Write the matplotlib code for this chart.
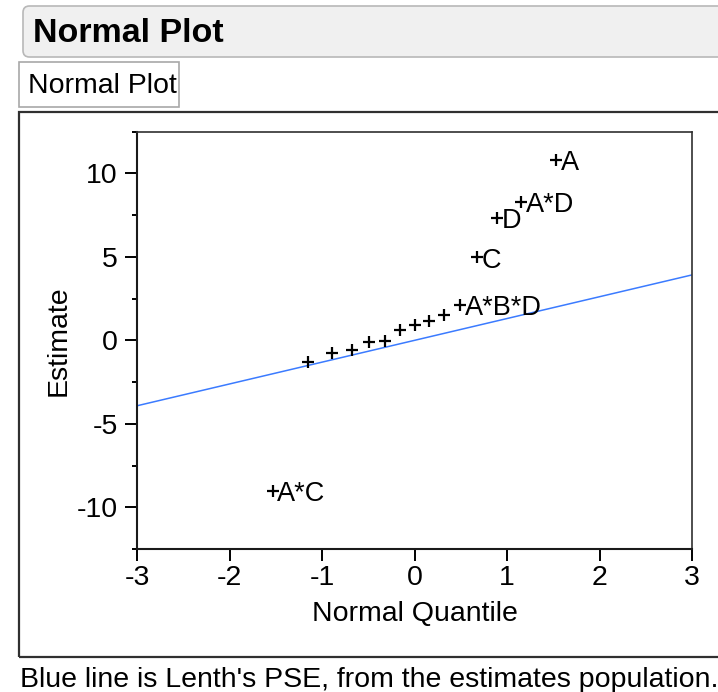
import matplotlib
matplotlib.use("Agg")
import matplotlib.pyplot as plt
from matplotlib.patches import FancyBboxPatch, Rectangle

plt.rcParams["font.family"] = ["Liberation Sans", "DejaVu Sans"]

# normal quantiles and estimates
quantiles = [-1.534, -1.150, -0.887, -0.674, -0.489, -0.319, -0.157, 0.0,
             0.157, 0.319, 0.489, 0.674, 0.887, 1.150, 1.534]
estimates = [-9.04, -1.28, -0.78, -0.56, -0.12, -0.02, 0.64, 0.92,
             1.18, 1.52, 2.10, 4.97, 7.33, 8.30, 10.80]
effect_labels = ["A*C", "", "", "", "", "", "", "",
                 "", "", "A*B*D", "C", "D", "A*D", "A"]

# Lenth's PSE line
pse_x = [-3, 3]
pse_y = [-3.92, 3.92]

x_ticks = [-3, -2, -1, 0, 1, 2, 3]
y_ticks = [-10, -5, 0, 5, 10]
y_minor = [-12.5, -7.5, -2.5, 2.5, 7.5, 12.5]

W, H = 718, 692


def fx(px):
    return px / W


def fy(py):
    return 1 - py / H


fig = plt.figure(figsize=(W / 100, H / 100), dpi=100)

# outline header
header = FancyBboxPatch((fx(23), fy(57)), fx(760) - fx(23), fy(6) - fy(57),
                        boxstyle="round,pad=0,rounding_size=0.009",
                        mutation_aspect=W / H, transform=fig.transFigure,
                        facecolor="#f0f0f0", edgecolor="#b8b8b8", lw=1.2)
fig.patches.append(header)
fig.text(fx(33), fy(42), "Normal Plot", fontsize=24.5, fontweight="bold",
         ha="left", va="baseline")

sub_box = Rectangle((fx(18.5), fy(107)), fx(179) - fx(18.5), fy(62) - fy(107),
                    transform=fig.transFigure, facecolor="white",
                    edgecolor="#a8a8a8", lw=1.2)
fig.patches.append(sub_box)
fig.text(fx(28), fy(93), "Normal Plot", fontsize=20.5, ha="left", va="baseline")

frame = Rectangle((fx(18.5), fy(656.5)), fx(760) - fx(18.5), fy(111.5) - fy(656.5),
                  transform=fig.transFigure, facecolor="none",
                  edgecolor="#303030", lw=1.6)
fig.patches.append(frame)

ax = fig.add_axes([fx(137), fy(549), fx(692) - fx(137), fy(131.7) - fy(549)])

ax.plot(pse_x, pse_y, color="#3b7bff", lw=1.1, zorder=2)
ax.plot(quantiles, estimates, linestyle="none", marker="+", markersize=9,
        markeredgewidth=1.6, color="black", zorder=3)
for q, e, name in zip(quantiles, estimates, effect_labels):
    if name:
        ax.annotate(name, (q, e), xytext=(3.4, -7.3), textcoords="offset points",
                    fontsize=19.5, ha="left", va="baseline")

ax.set_xlim(-3, 3)
ax.set_ylim(-12.5, 12.5)
ax.set_xticks(x_ticks)
ax.set_xticklabels([str(t) for t in x_ticks])
ax.set_yticks(y_ticks)
ax.set_yticklabels([str(t) for t in y_ticks])
ax.set_yticks(y_minor, minor=True)

ax.tick_params(axis="both", which="major", length=8.8, width=1.4,
               labelsize=20.5, direction="out")
ax.tick_params(axis="x", which="major", pad=3)
ax.tick_params(axis="y", which="major", pad=5)
ax.tick_params(axis="y", which="minor", length=3.8, width=1.4)
for side in ["left", "bottom"]:
    ax.spines[side].set_linewidth(1.5)
    ax.spines[side].set_color("#1a1a1a")
for side in ["top", "right"]:
    ax.spines[side].set_linewidth(1.2)
    ax.spines[side].set_color("#303030")

ax.set_xlabel("Normal Quantile", fontsize=20.5, labelpad=7)
ax.set_ylabel("Estimate", fontsize=20.5, labelpad=4)

fig.text(fx(19.5), fy(687), "Blue line is Lenth's PSE, from the estimates population.",
         fontsize=20.5, ha="left", va="baseline")

fig.savefig("out.png", dpi=100)
